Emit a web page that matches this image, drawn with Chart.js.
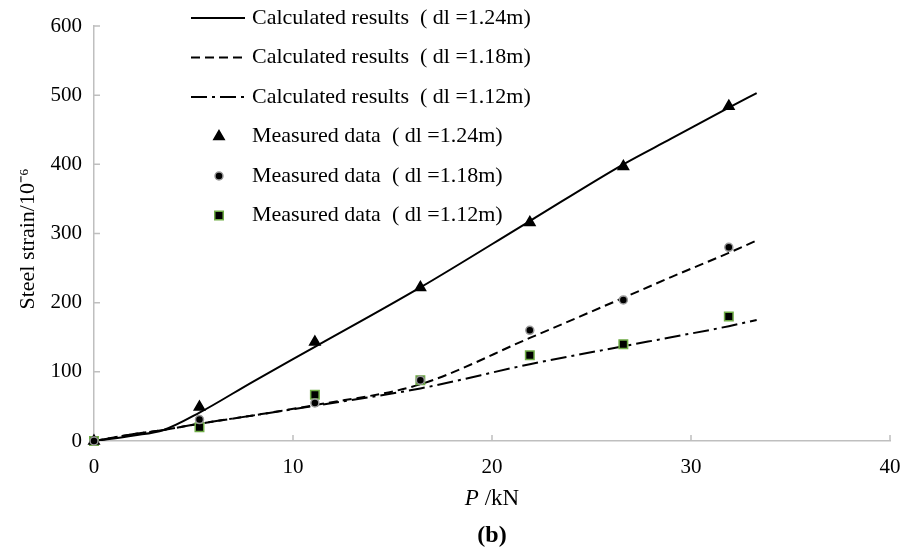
<!DOCTYPE html>
<html>
<head>
<meta charset="utf-8">
<script src="https://cdn.jsdelivr.net/npm/chart.js@4.4.1/dist/chart.umd.min.js"></script>
<style>
  html, body { margin: 0; padding: 0; background: #fff; }
  #wrap { width: 915px; height: 555px; }
</style>
</head>
<body>
<div id="wrap"><canvas id="chartstrain"></canvas></div>
<script>
// measured points
const loadP = [0, 5.3, 11.1, 16.4, 21.9, 26.6, 31.9];
const meas124 = [0, 49, 143, 222, 316, 397, 484];
const meas118 = [0, 31, 55, 88, 160, 204, 280];
const meas112 = [0, 20, 67, 88, 124, 140, 180];

// calculated curves
const calcP = [0, 2, 3.5, 5.3, 8, 11.1, 16.4, 21.9, 26.6, 29, 31.9, 33.3];
const calc124 = [0, 8, 16, 41, 86, 136, 222, 318, 400, 437, 482, 503];
const calc118 = [0, 10, 16, 25, 37, 52, 82, 149, 207, 237, 272, 290];
const calc112 = [0, 10, 16, 25, 37, 51, 76, 111, 137, 150, 166, 175];

const xTicks = [0, 10, 20, 30, 40];
const yTicks = [0, 100, 200, 300, 400, 500, 600];

const labels = [
  'Calculated results  ( dl =1.24m)',
  'Calculated results  ( dl =1.18m)',
  'Calculated results  ( dl =1.12m)',
  'Measured data  ( dl =1.24m)',
  'Measured data  ( dl =1.18m)',
  'Measured data  ( dl =1.12m)'
];

const pts = (xs, ys) => xs.map((x, i) => ({ x: x, y: ys[i] }));
const serif = '"Liberation Serif", "Times New Roman", serif';
const axisGrey = '#bfbfbf';

function curve(label, data, dash) {
  return {
    type: 'line', label: label, data: data,
    borderColor: '#000', borderWidth: 2, borderDash: dash,
    pointRadius: 0, fill: false, cubicInterpolationMode: 'monotone', order: 4
  };
}

function marks(label, data, style, radius, fill, border, order) {
  return {
    type: 'scatter', label: label, data: data,
    pointStyle: style, pointRadius: radius, pointHoverRadius: radius,
    backgroundColor: fill, borderColor: border, borderWidth: 1.5,
    clip: false, order: order
  };
}

// small inward tick marks on both axes
const innerTicks = {
  id: 'innerTicks',
  beforeDatasetsDraw(chart) {
    const c = chart.ctx;
    const { x, y } = chart.scales;
    const a = chart.chartArea;
    c.save();
    c.strokeStyle = axisGrey;
    c.lineWidth = 1.5;
    c.beginPath();
    xTicks.forEach(v => {
      const px = x.getPixelForValue(v);
      c.moveTo(px, a.bottom);
      c.lineTo(px, a.bottom - 6);
    });
    yTicks.forEach(v => {
      const py = y.getPixelForValue(v);
      c.moveTo(a.left, py);
      c.lineTo(a.left + 6, py);
    });
    c.stroke();
    c.restore();
  }
};

// legend drawn top-left inside plot, axis titles and caption
const extras = {
  id: 'extras',
  afterDraw(chart) {
    const c = chart.ctx;
    const rows = [18, 57.5, 97, 136.5, 176, 215.5];
    c.save();
    chart.data.datasets.forEach((ds, i) => {
      const y = rows[i];
      if (ds.type === 'line') {
        c.beginPath();
        c.setLineDash(ds.borderDash || []);
        c.strokeStyle = ds.borderColor;
        c.lineWidth = ds.borderWidth;
        c.moveTo(191, y);
        c.lineTo(245, y);
        c.stroke();
        c.setLineDash([]);
      } else {
        c.fillStyle = ds.backgroundColor;
        c.strokeStyle = ds.borderColor;
        c.lineWidth = ds.borderWidth;
        Chart.helpers.drawPoint(c, {
          pointStyle: ds.pointStyle, radius: ds.pointRadius, borderWidth: ds.borderWidth
        }, 219, y);
      }
      c.fillStyle = '#000';
      c.font = '22px ' + serif;
      c.textBaseline = 'middle';
      c.textAlign = 'left';
      c.fillText(ds.label, 252, y);
    });

    // y title
    c.save();
    c.translate(28, 239);
    c.rotate(-Math.PI / 2);
    c.font = '22px ' + serif;
    c.textAlign = 'center';
    c.fillText('Steel strain/10\u207B\u2076', 0, 0);
    c.restore();

    // x title with italic P
    const cx = (chart.chartArea.left + chart.chartArea.right) / 2;
    c.textBaseline = 'middle';
    c.font = 'italic 23px ' + serif;
    const wP = c.measureText('P').width;
    c.font = '23px ' + serif;
    const wRest = c.measureText(' /kN').width;
    const x0 = cx - (wP + wRest) / 2;
    c.textAlign = 'left';
    c.font = 'italic 23px ' + serif;
    c.fillText('P', x0, 499);
    c.font = '23px ' + serif;
    c.fillText(' /kN', x0 + wP, 499);

    c.font = 'bold 24px ' + serif;
    c.textAlign = 'center';
    c.fillText('(b)', cx, 536);
    c.restore();
  }
};

const ctx = document.getElementById('chartstrain').getContext('2d');

const chartstrain = new Chart(ctx, {
  data: {
    datasets: [
      curve(labels[0], pts(calcP, calc124), []),
      curve(labels[1], pts(calcP, calc118), [9, 5]),
      curve(labels[2], pts(calcP, calc112), [16, 5, 3, 5]),
      marks(labels[3], pts(loadP, meas124), 'triangle', 6, '#000', '#000', 2),
      marks(labels[4], pts(loadP, meas118), 'circle', 4, '#000', '#9a9a9a', 1),
      marks(labels[5], pts(loadP, meas112), 'rect', 6, '#000', '#70ad47', 3)
    ]
  },
  options: {
    responsive: true,
    maintainAspectRatio: false,
    animation: false,
    layout: { padding: { left: 0, right: 25, top: 26, bottom: 0 } },
    plugins: {
      legend: { display: false },
      tooltip: { enabled: false }
    },
    scales: {
      x: {
        type: 'linear', min: 0, max: 40,
        afterFit: (s) => { s.height = 114; },
        afterBuildTicks: (s) => { s.ticks = xTicks.map(v => ({ value: v })); },
        grid: { display: false, drawTicks: false },
        border: { color: axisGrey, width: 1.5 },
        ticks: { color: '#000', padding: 14, font: { family: serif, size: 21 } }
      },
      y: {
        type: 'linear', min: 0, max: 600,
        afterFit: (s) => { s.width = 94; },
        afterBuildTicks: (s) => { s.ticks = yTicks.map(v => ({ value: v })); },
        grid: { display: false, drawTicks: false },
        border: { color: axisGrey, width: 1.5 },
        ticks: { color: '#000', padding: 12, font: { family: serif, size: 21 } }
      }
    }
  },
  plugins: [innerTicks, extras]
});
</script>
</body>
</html>
